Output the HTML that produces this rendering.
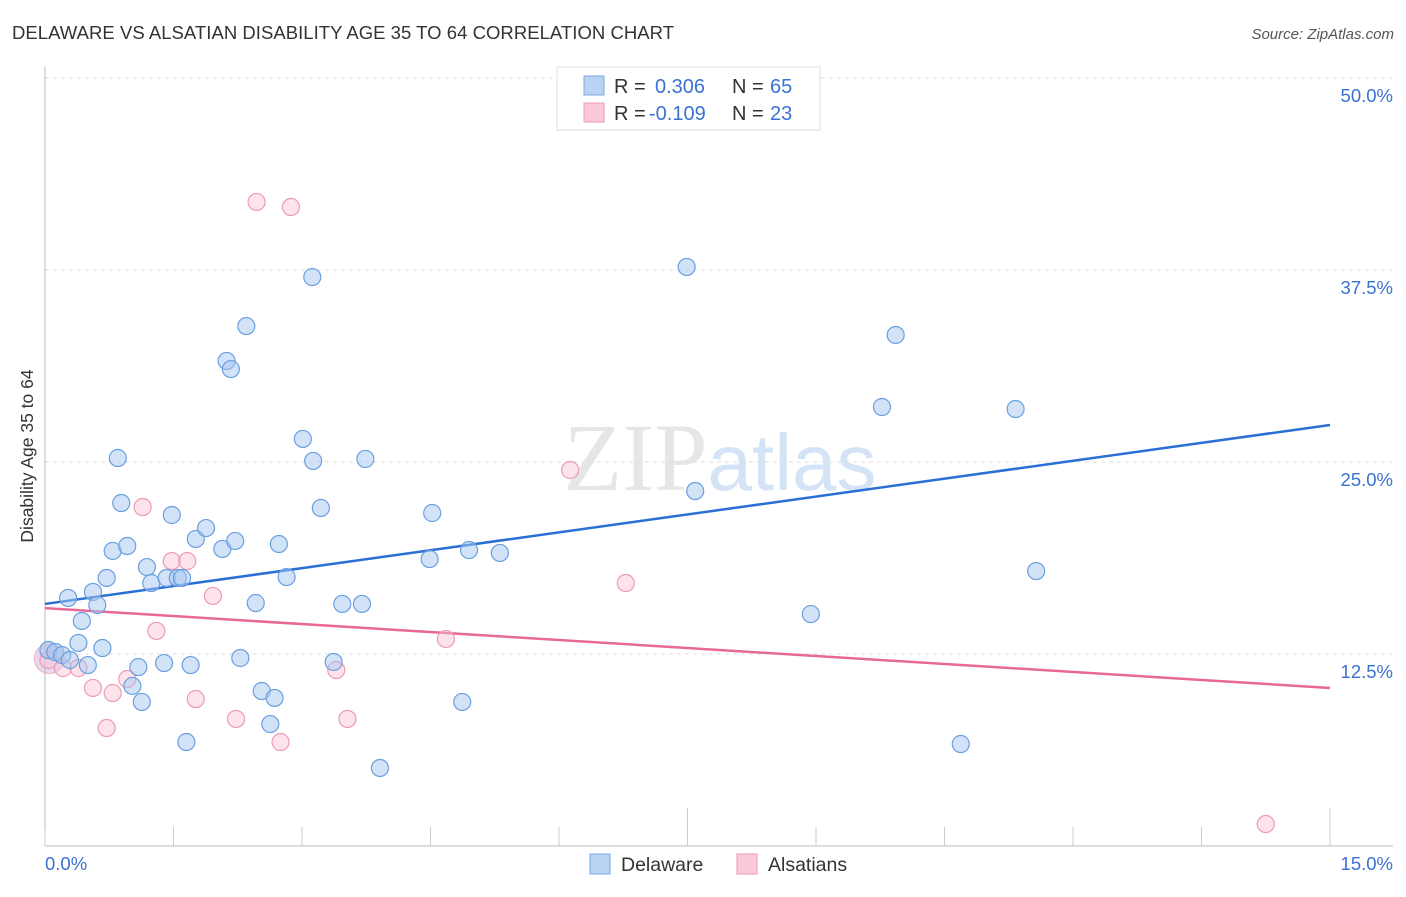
<!DOCTYPE html>
<html><head><meta charset="utf-8">
<style>
body{margin:0;background:#fff;font-family:"Liberation Sans",sans-serif;}
svg text{font-family:"Liberation Sans",sans-serif;}
</style></head>
<body>
<svg id="chart" width="1406" height="892" xmlns="http://www.w3.org/2000/svg">
<text x="12" y="39" font-size="18.5" fill="#333" textLength="662">DELAWARE VS ALSATIAN DISABILITY AGE 35 TO 64 CORRELATION CHART</text>
<text x="1394" y="39" font-size="15" fill="#555" text-anchor="end" font-style="italic">Source: ZipAtlas.com</text>
<text x="720" y="490" font-size="96" text-anchor="middle" fill="#e6e6e6"><tspan font-family="Liberation Serif,serif">ZIP</tspan><tspan fill="#d4e3f5" font-size="80">atlas</tspan></text>
<text transform="translate(33,456) rotate(-90)" font-size="17.5" fill="#333" text-anchor="middle">Disability Age 35 to 64</text>
<g id="grid"></g><g id="axes"></g><g id="lines"></g><g id="pts"></g>
<g>
<rect x="557" y="67" width="263" height="63" fill="#fff" stroke="#ddd"/>
<rect x="584" y="76" width="20" height="19" fill="#b9d3f5" stroke="#7aa8e0"/>
<rect x="584" y="103" width="20" height="19" fill="#fbc9d7" stroke="#ee9ab3"/>
<text x="614" y="93" font-size="20" fill="#333">R = </text><text x="655" y="93" font-size="20" fill="#3a72d4">0.306</text>
<text x="732" y="93" font-size="20" fill="#333">N = </text><text x="770" y="93" font-size="20" fill="#3a72d4">65</text>
<text x="614" y="120" font-size="20" fill="#333">R = </text><text x="649" y="120" font-size="20" fill="#3a72d4">-0.109</text>
<text x="732" y="120" font-size="20" fill="#333">N = </text><text x="770" y="120" font-size="20" fill="#3a72d4">23</text>
</g>
<g>
<rect x="590" y="854" width="20" height="20" fill="#b9d3f5" stroke="#7aa8e0"/>
<text x="621" y="871" font-size="19.5" fill="#333">Delaware</text>
<rect x="737" y="854" width="20" height="20" fill="#fbc9d7" stroke="#ee9ab3"/>
<text x="768" y="871" font-size="19.5" fill="#333">Alsatians</text>
</g>
</svg>
<script>
const blueX=[0.04,0.12,0.20,0.29,0.27,0.43,0.39,0.50,0.56,0.61,0.67,0.72,0.79,0.85,0.89,0.96,1.09,1.13,1.02,1.19,1.24,1.39,1.42,1.48,1.55,1.60,1.65,1.70,1.76,1.88,2.07,2.12,2.17,2.22,2.28,2.35,2.46,2.53,2.63,2.68,2.73,2.82,3.01,3.12,3.13,3.22,3.37,3.47,3.70,3.74,3.91,4.49,4.52,4.87,4.95,5.31,7.49,7.59,8.94,9.77,9.93,10.69,11.33,11.57];
const blueY=[12.76,12.63,12.43,12.11,16.15,14.65,13.22,11.78,16.54,15.69,12.89,17.45,19.21,25.26,22.33,19.53,11.65,9.38,10.42,18.16,17.12,11.91,17.45,21.55,17.45,17.45,6.77,11.78,19.99,20.70,19.34,31.58,31.05,19.86,12.24,33.85,15.82,10.09,7.94,9.64,19.66,17.51,26.50,37.04,25.07,22.01,11.98,15.76,15.76,25.20,5.08,18.68,21.68,9.38,19.27,19.08,37.70,23.11,15.10,28.58,33.27,6.64,28.45,17.90];
const pinkX=[0.04,0.21,0.39,0.56,0.72,0.79,0.96,1.14,1.30,1.48,1.66,1.76,1.96,2.23,2.47,2.75,2.87,3.40,3.53,4.68,6.13,6.78,14.25];
const pinkY=[12.11,11.59,11.59,10.29,7.68,9.96,10.87,22.07,14.00,18.55,18.55,9.57,16.28,8.27,41.93,6.77,41.60,11.46,8.27,13.48,24.48,17.12,1.43];
const blueLine=[15.76,27.41];
const pinkLine=[15.49,10.29];
const yTicks=[12.5,25,37.5,50];
const yTickLabels=["12.5%","25.0%","37.5%","50.0%"];
const xTicks=[0,1.5,3,4.5,6,7.5,9,10.5,12,13.5,15];
const NS="http://www.w3.org/2000/svg";
const X=v=>45+v*(1285/15);
const Y=v=>846-v*15.36;
function mk(tag,attrs,parent){const e=document.createElementNS(NS,tag);for(const k in attrs)e.setAttribute(k,attrs[k]);document.getElementById(parent).appendChild(e);return e;}
yTicks.forEach((t,i)=>{
 const g=mk('line',{x1:45,x2:1393,y1:Y(t),y2:Y(t),stroke:'#ddd','stroke-dasharray':'4,4'},'grid');
 
 
 const l=mk('text',{x:1393,y:Y(t)+24,'font-size':18.5,fill:'#3a72d4','text-anchor':'end'},'grid');
 l.textContent=yTickLabels[i];
 
 
});
const ax=mk('line',{x1:45,x2:1393,y1:846,y2:846,stroke:'#bbb'},'axes');


const ay=mk('line',{x1:45,x2:45,y1:67,y2:846,stroke:'#bbb'},'axes');


xTicks.forEach((t,i)=>{
 const tk=mk('line',{x1:X(t),x2:X(t),y1:(i==5||i==10)?808:827,y2:846,stroke:'#ccc'},'axes');
 
 
});
const xl0=mk('text',{x:45,y:870,'font-size':18.5,fill:'#3a72d4'},'axes');xl0.textContent='0.0%';


const xl1=mk('text',{x:1393,y:870,'font-size':18.5,fill:'#3a72d4','text-anchor':'end'},'axes');xl1.textContent='15.0%';


function pts(xs,ys,fill,stroke,name){xs.forEach((x,i)=>{
 const c=mk('circle',{cx:X(x),cy:Y(ys[i]),r:8.5,fill:fill,stroke:stroke,'stroke-width':1.2},'pts');
 
 
});}
const bb=mk('circle',{cx:X(0.05),cy:Y(12.2),r:15,fill:'rgba(200,170,210,0.45)',stroke:'rgba(230,150,180,0.6)'},'pts');


pts(pinkX,pinkY,'rgba(250,195,212,0.45)','#ee9ab3','alsatians-point');
pts(blueX,blueY,'rgba(165,198,240,0.5)','#6a9fe0','delaware-point');
const bl=mk('line',{x1:X(0),y1:Y(blueLine[0]),x2:X(15),y2:Y(blueLine[1]),stroke:'#2a6fd6','stroke-width':2.5},'lines');


const pl=mk('line',{x1:X(0),y1:Y(pinkLine[0]),x2:X(15),y2:Y(pinkLine[1]),stroke:'#e8689a','stroke-width':2.5},'lines');


</script>
</body></html>
